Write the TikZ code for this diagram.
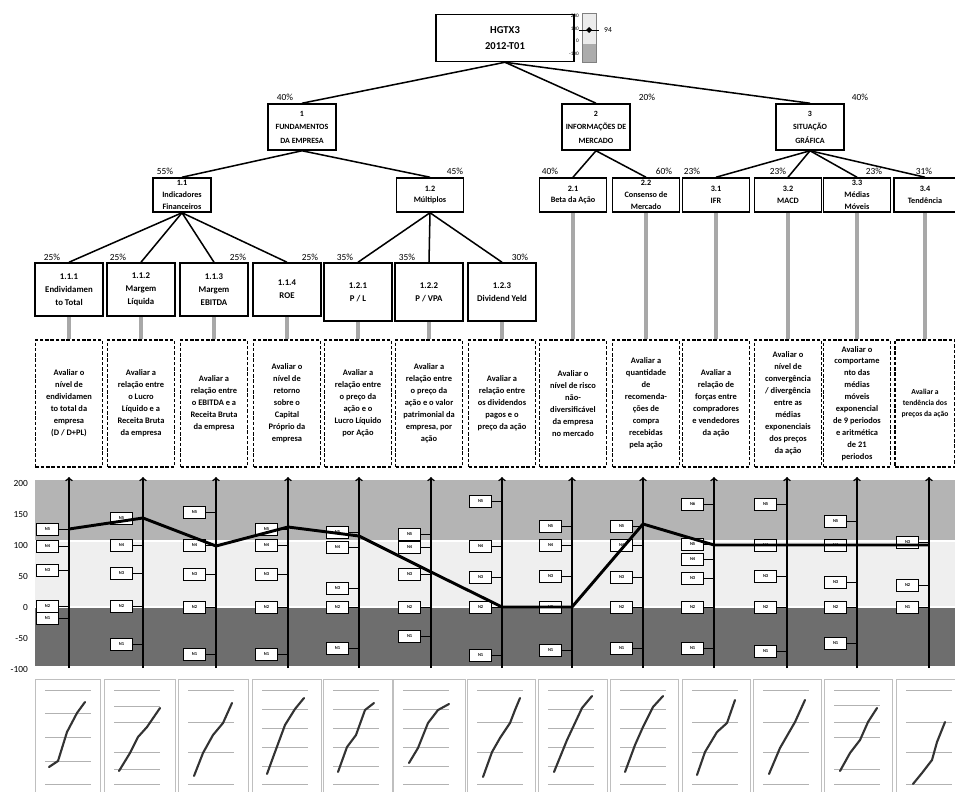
\documentclass[tikz,border=0pt]{standalone}
\usepackage{fontspec}
\setmainfont{Carlito}
\usetikzlibrary{positioning}

\definecolor{bandhigh}{HTML}{B4B4B4}
\definecolor{bandmid}{HTML}{EFEFEF}
\definecolor{bandlow}{HTML}{6E6E6E}
\definecolor{linkgray}{HTML}{A8A8A8}
\definecolor{trendgray}{HTML}{333333}

\begin{document}
\begin{tikzpicture}
    [x=0.03cm, y=-0.03cm,
     nodebox/.style={draw, line width=1.3pt, fill=white, align=center, inner sep=1pt},
     goalbox/.style={nodebox, minimum width=4.14cm, minimum height=1.41cm,
       font=\fontsize{9}{13.5}\selectfont\bfseries},
     critbox/.style={nodebox, minimum width=2.04cm, minimum height=1.38cm,
       font=\fontsize{6.8}{11.5}\selectfont\bfseries},
     subbox/.style={nodebox, minimum width=2.01cm, minimum height=1.02cm,
       font=\fontsize{7}{10}\selectfont\bfseries},
     indbox/.style={nodebox, minimum width=2.04cm, minimum height=1.59cm,
       font=\fontsize{7.5}{11}\selectfont\bfseries},
     descbox/.style={draw, line width=1.3pt, dash pattern=on 3pt off 1.5pt, align=center,
       minimum width=2.01cm, minimum height=3.81cm, inner sep=1pt,
       font=\fontsize{7.2}{10.2}\selectfont\bfseries},
     pct/.style={font=\fontsize{8}{8}\selectfont, inner sep=0pt},
     ylab/.style={font=\fontsize{8}{8}\selectfont, inner sep=0pt, anchor=east},
     tinytxt/.style={font=\fontsize{4.5}{4.5}\selectfont, inner sep=0pt},
     treeline/.style={line width=1.3pt},
     feedline/.style={line width=3.2pt, linkgray},
     nbox/.style={draw, line width=0.7pt, fill=white, minimum width=0.66cm,
       minimum height=0.36cm, inner sep=0pt, anchor=east,
       font=\fontsize{3.8}{4}\selectfont\bfseries},
     axisarrow/.style={->, line width=1.3pt},
     score/.style={line width=2.5pt, line join=round},
     panel/.style={draw=gray!50, line width=0.6pt},
     gridln/.style={gray!60, line width=0.6pt},
     trend/.style={trendgray, line width=1.8pt, line join=round, line cap=round}]
    \useasboundingbox (0,0) rectangle (955,792);

    % objective and gauge
    \node[goalbox] (goal) at (505,38) {HGTX3\\2012-T01};
    \fill[gray!15] (582,13) rectangle (596,44);
    \fill[gray!65] (582,44) rectangle (596,62);
    \draw[gray, line width=0.3pt] (582,13) rectangle (596,62);
    \foreach \v/\y in {200/16,100/29,0/41,-100/54}
      \node[tinytxt, anchor=east] (gl\y) at (579,\y) {\v};
    \coordinate (gm) at (589,30);
    \draw[line width=0.5pt] (gm) ++(-10,0) -- ++(20,0);
    \fill (gm) ++(0,-3) -- ++(3,3) -- ++(-3,3) -- ++(-3,-3) -- cycle;
    \node[font=\fontsize{6.5}{6.5}\selectfont, inner sep=0pt] (gval) at (608,30) {94};

    % criteria
    \node[critbox] (c1) at (302,127) {1\\FUNDAMENTOS\\DA EMPRESA};
    \node[critbox] (c2) at (596,127) {2\\INFORMAÇÕES DE\\MERCADO};
    \node[critbox] (c3) at (810,127) {3\\SITUAÇÃO\\GRÁFICA};
    \foreach \n in {1,2,3}
      \draw[treeline] (goal.south) -- (c\n.north);

    % sub-criteria
    \node[subbox, minimum width=1.74cm] (s11) at (182,195) {1.1\\Indicadores\\Financeiros};
    \node[subbox] (s12) at (430,195) {1.2\\Múltiplos};
    \node[subbox] (s21) at (573,195) {2.1\\Beta da Ação};
    \node[subbox] (s22) at (646,195) {2.2\\Consenso de\\Mercado};
    \node[subbox] (s31) at (716,195) {3.1\\IFR};
    \node[subbox] (s32) at (788,195) {3.2\\MACD};
    \node[subbox] (s33) at (857,195) {3.3\\Médias\\Móveis};
    \node[subbox, minimum width=1.86cm] (s34) at (925,195) {3.4\\Tendência};
    \foreach \s in {11,12}
      \draw[treeline] (c1.south) -- (s\s.north);
    \foreach \s in {21,22}
      \draw[treeline] (c2.south) -- (s\s.north);
    \foreach \s in {31,32,33,34}
      \draw[treeline] (c3.south) -- (s\s.north);

    % indicators
    \node[indbox] (i111) at (69,289.5) {1.1.1\\Endividamen\\to Total};
    \node[indbox] (i112) at (141,289.5) {1.1.2\\Margem\\Líquida};
    \node[indbox] (i113) at (214,289.5) {1.1.3\\Margem\\EBITDA};
    \node[indbox] (i114) at (287,289.5) {1.1.4\\ROE};
    \node[indbox, minimum height=1.74cm] (i121) at (358,292) {1.2.1\\P / L};
    \node[indbox, minimum height=1.74cm] (i122) at (429,292) {1.2.2\\P / VPA};
    \node[indbox, minimum height=1.74cm] (i123) at (502,292) {1.2.3\\Dividend Yeld};
    \foreach \i in {111,112,113,114}
      \draw[treeline] (s11.south) -- (i\i.north);
    \foreach \i in {121,122,123}
      \draw[treeline] (s12.south) -- (i\i.north);

    % weights
    \foreach \x/\y/\w in {285/97/40,647/97/20,860/97/40,
                          165/171/55,455/171/45,550/171/40,664/171/60,
                          692/171/23,778/171/23,874/171/23,924/171/31,
                          52/257/25,118/257/25,238/257/25,310/257/25,
                          345/257/35,407/257/35,520/257/30}
      \node[pct] (w\x-\y) at (\x,\y) {\w\%};

    % descriptions
    \foreach \n/\x/\t in {
      1/69/{Avaliar o\\nível de\\endividamen\\to total da\\empresa\\(D / D+PL)},
      2/141/{Avaliar a\\relação entre\\o Lucro\\Líquido e a\\Receita Bruta\\da empresa},
      3/214/{Avaliar a\\relação entre\\o EBITDA e a\\Receita Bruta\\da empresa},
      4/287/{Avaliar o\\nível de\\retorno\\sobre o\\Capital\\Próprio da\\empresa},
      5/358/{Avaliar a\\relação entre\\o preço da\\ação e o\\Lucro Líquido\\por Ação},
      6/429/{Avaliar a\\relação entre\\o preço da\\ação e o valor\\patrimonial da\\empresa, por\\ação},
      7/502/{Avaliar a\\relação entre\\os dividendos\\pagos e o\\preço da ação},
      8/573/{Avaliar o\\nível de risco\\não-\\diversificável\\da empresa\\no mercado},
      9/646/{Avaliar a\\quantidade\\de\\recomenda-\\ções de\\compra\\recebidas\\pela ação},
      10/716/{Avaliar a\\relação de\\forças entre\\compradores\\e vendedores\\da ação},
      11/788/{Avaliar o\\nível de\\convergência\\/ divergência\\entre as\\médias\\exponenciais\\dos preços\\da ação},
      12/857/{Avaliar o\\comportame\\nto das\\médias\\móveis\\exponencial\\de 9 periodos\\e aritmética\\de 21\\periodos}}
      \node[descbox] (d\n) at (\x,403.5) {\t};
    \node[descbox, minimum width=1.8cm, font=\fontsize{6.5}{9}\selectfont\bfseries]
      (d13) at (925,403.5) {Avaliar a\\tendência dos\\preços da ação};
    \foreach \a/\b in {i111/d1,i112/d2,i113/d3,i114/d4,i121/d5,i122/d6,i123/d7,
                       s21/d8,s22/d9,s31/d10,s32/d11,s33/d12,s34/d13}
      \draw[feedline] (\a.south) -- (\b.north);

    % score chart
    \fill[bandhigh] (35,480) rectangle (955,541);
    \fill[bandmid] (35,541) rectangle (955,607);
    \fill[bandlow] (35,607) rectangle (955,666);
    \draw[white, line width=1.2pt] (35,541) -- (955,541) (35,607) -- (955,607);
    \foreach \v in {200,150,...,-100}
      \node[ylab] (yl\v) at (28,{607-0.62*(\v)}) {\v};

    \foreach \col/\x/\lst in {
      1/69/{N5/529,N4/546,N3/570,N2/606,N1/618},
      2/143/{N5/518,N4/545,N3/573,N2/606,N1/644},
      3/216/{N5/512,N4/545,N3/574,N2/607,N1/654},
      4/288/{N5/529,N4/545,N3/574,N2/607,N1/654},
      5/359/{N5/532,N4/547,N3/588,N2/607,N1/648},
      6/431/{N5/534,N4/547,N3/574,N2/607,N1/636},
      7/502/{N5/501,N4/546,N3/577,N2/607,N1/655},
      8/572/{N5/526,N4/545,N3/576,N2/607,N1/650},
      9/643/{N5/526,N4/545,N3/577,N2/607,N1/648},
      10/714/{N6/504,N5/544,N4/559,N3/578,N2/607,N1/648},
      11/787/{N5/504,N4/545,N3/576,N2/607,N1/651},
      12/857/{N5/521,N4/545,N3/582,N2/607,N1/643},
      13/929/{N3/542,N2/585,N1/607}}
    {
      \coordinate (ab\col) at (\x,668);
      \coordinate (at\col) at (\x,477);
      \foreach \lab/\y in \lst
      {
        \node[nbox] (n\col\lab) at ({\x-10},\y) {\lab};
        \draw[line width=0.7pt] (n\col\lab.east) -- (n\col\lab.east -| ab\col);
      }
      \draw[axisarrow] (ab\col) -- (at\col);
    }
    \draw[score] plot coordinates {(69,529) (143,518) (216,546) (288,527) (359,536)
      (431,572) (502,607) (572,607) (643,524) (714,545) (787,545) (857,545) (929,545)};

    % small trend charts
    \foreach \px/\pw/\grid in {35/65/{690,713,737,761,784},
                               104/71/{690,706,722,752,769,784},
                               178/70/{690,722,752,784},
                               252/69/{690,709,728,747,766,784},
                               323/69/{690,709,728,747,766,784},
                               393/72/{690,709,728,747,766,784},
                               467/68/{690,722,752,784},
                               538/69/{690,709,728,747,766,784},
                               610/68/{690,709,728,747,766,784},
                               682/68/{690,722,752,784},
                               753/68/{690,722,752,784},
                               824/68/{690,705,722,737,769,784},
                               896/70/{690,722,752,784}}
    {
      \draw[panel] (\px,679) rectangle ++(\pw,130);
      \foreach \gy in \grid
        \draw[gridln] ({\px+10},\gy) -- ({\px+56},\gy);
    }
    \draw[trend, shift={(35,0)}] plot coordinates {(14,767) (23,761) (32,732) (42,713) (50,702)};
    \draw[trend, shift={(104,0)}] plot coordinates {(15,771) (26,753) (34,737) (43,727) (56,708)};
    \draw[trend, shift={(178,0)}] plot coordinates {(16,776) (25,753) (35,735) (45,723) (54,703)};
    \draw[trend, shift={(252,0)}] plot coordinates {(15,774) (23,752) (33,725) (43,709) (52,698)};
    \draw[trend, shift={(323,0)}] plot coordinates {(15,772) (24,747) (33,735) (42,710) (51,703)};
    \draw[trend, shift={(393,0)}] plot coordinates {(16,763) (25,748) (35,723) (45,710) (56,704)};
    \draw[trend, shift={(467,0)}] plot coordinates {(16,777) (25,752) (33,738) (43,723) (48,710) (53,698)};
    \draw[trend, shift={(538,0)}] plot coordinates {(16,772) (29,740) (44,708) (54,696)};
    \draw[trend, shift={(610,0)}] plot coordinates {(15,772) (25,745) (33,727) (43,707) (53,696)};
    \draw[trend, shift={(682,0)}] plot coordinates {(15,775) (23,752) (35,732) (45,723) (53,700)};
    \draw[trend, shift={(753,0)}] plot coordinates {(16,774) (27,748) (42,722) (52,700)};
    \draw[trend, shift={(824,0)}] plot coordinates {(16,771) (26,753) (36,740) (44,722) (53,708)};
    \draw[trend, shift={(896,0)}] plot coordinates {(17,784) (26,773) (36,760) (41,742) (49,722)};
\end{tikzpicture}
\end{document}
